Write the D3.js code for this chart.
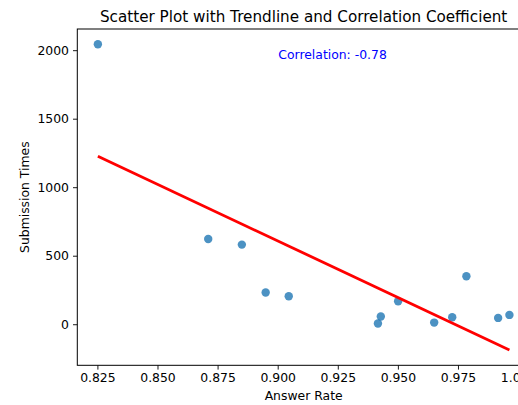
<!DOCTYPE html>
<html>
<head>
<meta charset="utf-8">
<script src="https://cdn.jsdelivr.net/npm/d3@7"></script>
<style>
  body { margin: 0; background: #fff; }
  text { font-family: "DejaVu Sans", sans-serif; }
</style>
</head>
<body>
<svg width="518" height="405"></svg>
<script>
// values
var answerRate = [0.8252, 0.8711, 0.8851, 0.8950, 0.9046, 0.9417, 0.9429, 0.9501, 0.9651, 0.9726, 0.9785, 0.9917, 0.9964];
var submissionTimes = [2043, 622, 581, 231, 204, 5, 56, 168, 12, 51, 350, 46, 68];
var xTicks = [0.825, 0.850, 0.875, 0.900, 0.925, 0.950, 0.975, 1.000];
var yTicks = [0, 500, 1000, 1500, 2000];

var svg = d3.select("svg"),
    width = +svg.attr("width"),
    height = +svg.attr("height");

// plot box (right edge falls outside the picture, like the reference)
var plotLeft = 77.3, plotRight = 530, plotTop = 29, plotBottom = 365.3;

var points = answerRate.map(function (d, i) { return {x: d, y: submissionTimes[i]}; });

// least squares trend + pearson r
var mx = d3.mean(answerRate), my = d3.mean(submissionTimes);
var sxy = d3.sum(points, function (d) { return (d.x - mx) * (d.y - my); }),
    sxx = d3.sum(points, function (d) { return (d.x - mx) * (d.x - mx); }),
    syy = d3.sum(points, function (d) { return (d.y - my) * (d.y - my); });
var slope = sxy / sxx, intercept = my - slope * mx;
var r = sxy / Math.sqrt(sxx * syy);

var xMin = d3.min(answerRate), xMax = d3.max(answerRate);
var trend = [xMin, xMax].map(function (x) { return {x: x, y: slope * x + intercept}; });

// matplotlib style 5% margins
var yLo = Math.min(d3.min(submissionTimes), trend[1].y), yHi = d3.max(submissionTimes);
var xPad = (xMax - xMin) * 0.05, yPad = (yHi - yLo) * 0.05;

var x = d3.scaleLinear().domain([xMin - xPad, xMax + xPad]).range([plotLeft, plotRight]);
var y = d3.scaleLinear().domain([yLo - yPad, yHi + yPad]).range([plotBottom, plotTop]);

svg.append("g")
        .attr("transform", "translate(0," + plotBottom + ")")
        .call(d3.axisBottom(x).tickValues(xTicks).tickFormat(d3.format(".3f")).tickSizeOuter(0).tickSize(4.3).tickPadding(4));

svg.append("g")
        .attr("transform", "translate(" + plotLeft + ",0)")
        .call(d3.axisLeft(y).tickValues(yTicks).tickFormat(d3.format("d")).tickSizeOuter(0).tickSize(4.3).tickPadding(4));

svg.selectAll(".tick text")
        .attr("font-family", "DejaVu Sans")
        .attr("font-size", "12.4px")
        .attr("fill", "#000");
svg.selectAll(".tick line").attr("stroke", "#000").attr("stroke-width", 0.9);
svg.selectAll(".domain").remove();

// frame
svg.append("rect")
        .attr("x", plotLeft)
        .attr("y", plotTop)
        .attr("width", plotRight - plotLeft)
        .attr("height", plotBottom - plotTop)
        .attr("fill", "none")
        .attr("stroke", "#000")
        .attr("stroke-width", 1);

svg.append("g")
        .selectAll("circle")
        .data(points)
        .enter().append("circle")
        .attr("cx", function (d) { return x(d.x); })
        .attr("cy", function (d) { return y(d.y); })
        .attr("r", 4.2)
        .attr("fill", "#1f77b4")
        .attr("fill-opacity", 0.8);

var line = d3.line()
        .x(function (d) { return x(d.x); })
        .y(function (d) { return y(d.y); });

svg.append("path")
        .datum(trend)
        .attr("d", line)
        .attr("fill", "none")
        .attr("stroke", "red")
        .attr("stroke-width", 2.8);

svg.append("text")
        .attr("x", 278.3)
        .attr("y", 59)
        .attr("font-size", "12.4px")
        .attr("fill", "blue")
        .text("Correlation: " + r.toFixed(2));

svg.append("text")
        .attr("x", (plotLeft + plotRight) / 2)
        .attr("y", 21.5)
        .attr("text-anchor", "middle")
        .attr("font-size", "15.2px")
        .attr("fill", "#000")
        .text("Scatter Plot with Trendline and Correlation Coefficient");

svg.append("text")
        .attr("x", (plotLeft + plotRight) / 2)
        .attr("y", 400)
        .attr("text-anchor", "middle")
        .attr("font-size", "12.4px")
        .attr("fill", "#000")
        .text("Answer Rate");

svg.append("text")
        .attr("transform", "translate(28.5," + (plotTop + plotBottom) / 2 + ") rotate(-90)")
        .attr("text-anchor", "middle")
        .attr("font-size", "12.4px")
        .attr("fill", "#000")
        .text("Submission Times");
</script>
</body>
</html>
